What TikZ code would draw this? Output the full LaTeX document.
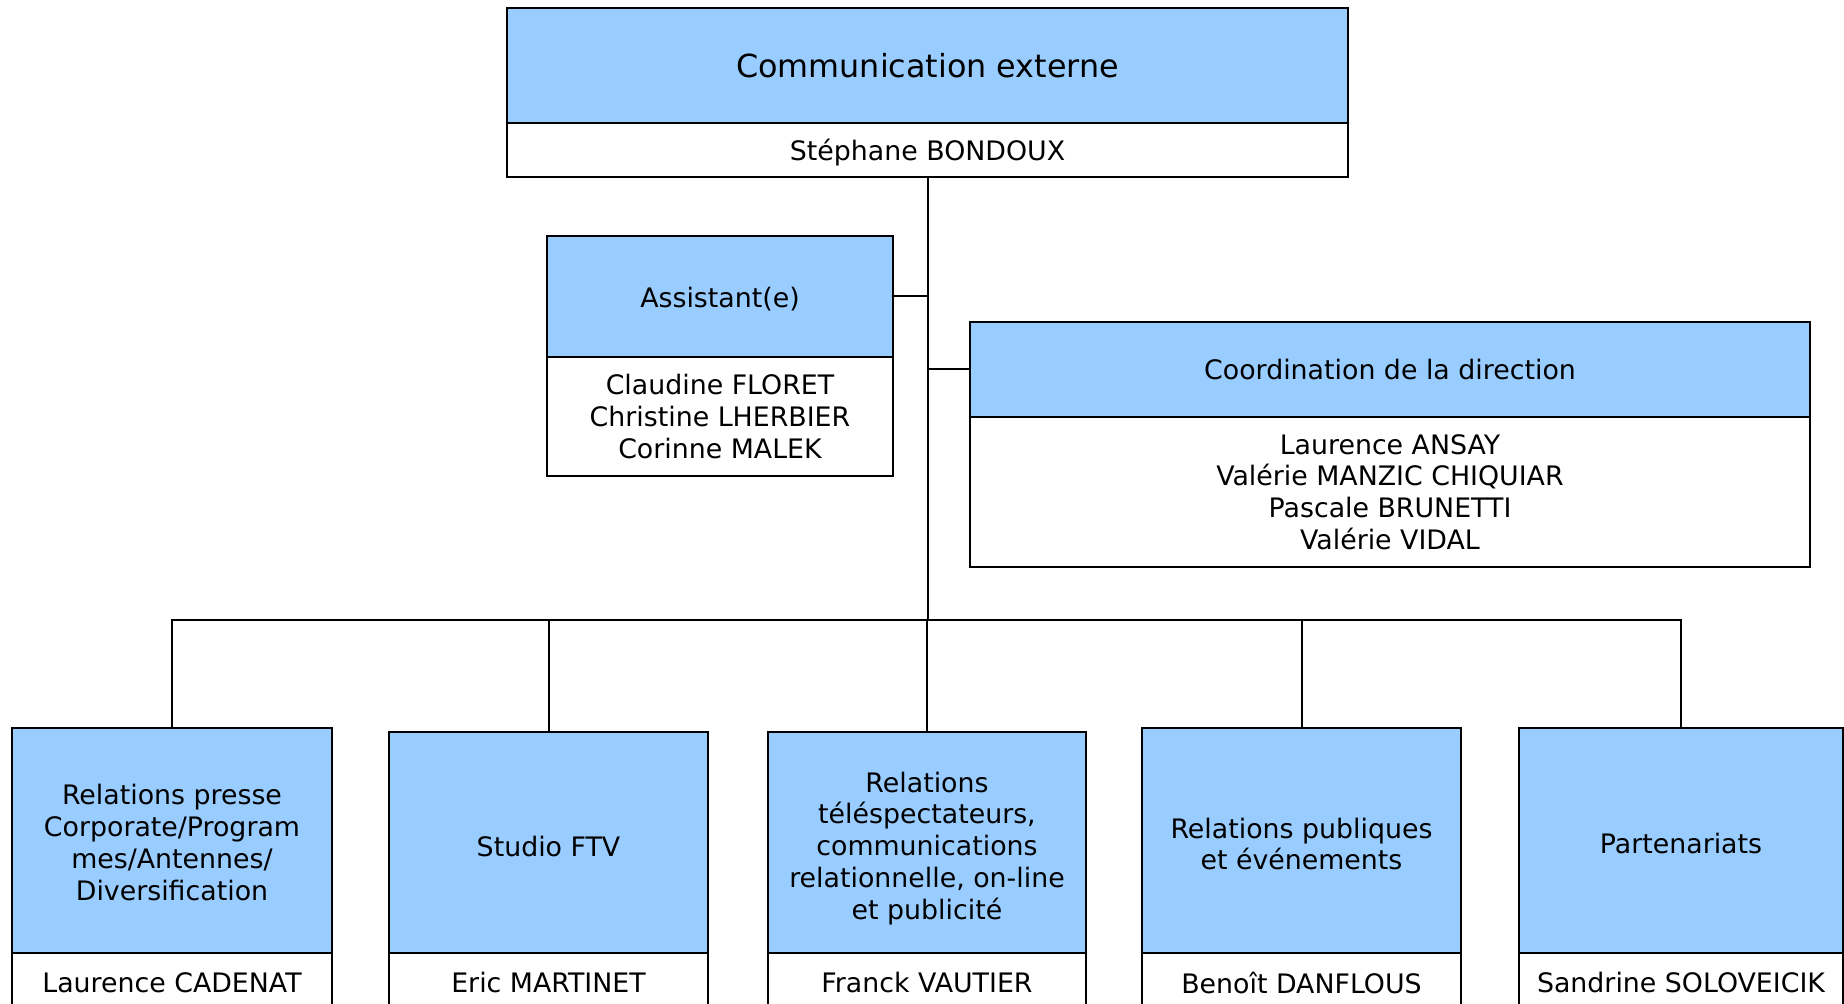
\documentclass[tikz,border=0pt]{standalone}
\usepackage{fontspec}
\setmainfont{DejaVu Sans}
\definecolor{boxblue}{HTML}{99CCFF}
\newcommand{\dropby}[1]{\rule{0pt}{#1}}
\begin{document}
\begin{tikzpicture}[x=0.5pt,y=-0.5pt,
  box/.style={draw=black, line width=1pt, inner sep=0pt, anchor=north west, align=center,
    font=\fontsize{13.4}{15.9}\selectfont},
  hdr/.style={box, fill=boxblue},
  nm/.style={box, fill=white},
  conn/.style={draw=black, line width=1pt}]
\useasboundingbox (0,0) rectangle (1844,1004);
\clip (0,0) rectangle (1844,1004);
\fill[white] (0,0) rectangle (1844,1004);

% top
\node[hdr, minimum width=420.5pt, minimum height=57.5pt, font=\fontsize{15.9}{19}\selectfont] (topH) at (506,7) {Communication externe};
\node[nm, minimum width=420.5pt, minimum height=27pt] (topN) at (506,122) {\dropby{13.1pt}Stéphane BONDOUX};

% assistant
\node[hdr, minimum width=173pt, minimum height=60.5pt] (asH) at (546,235) {\dropby{12.6pt}Assistant(e)};
\node[nm, minimum width=173pt, minimum height=59.5pt] (asN) at (546,356) {Claudine FLORET\\Christine LHERBIER\\Corinne MALEK};

% coordination
\node[hdr, minimum width=420pt, minimum height=47.5pt] (coH) at (969,321) {Coordination de la direction};
\node[nm, minimum width=420pt, minimum height=75pt] (coN) at (969,416) {Laurence ANSAY\\Valérie MANZIC CHIQUIAR\\Pascale BRUNETTI\\Valérie VIDAL};

% bottom row
\node[hdr, minimum width=160pt, minimum height=112.5pt] (b1H) at (11,727) {\dropby{12pt}Relations presse\\Corporate/Program\\mes/Antennes/\\Diversification};
\node[nm, minimum width=160pt, minimum height=30pt] (b1N) at (11,952) {Laurence CADENAT};

\node[hdr, minimum width=159.5pt, minimum height=110.5pt] (b2H) at (388,731) {\dropby{13.7pt}Studio FTV};
\node[nm, minimum width=159.5pt, minimum height=30pt] (b2N) at (388,952) {Eric MARTINET};

\node[hdr, minimum width=159pt, minimum height=110.5pt] (b3H) at (767,731) {\dropby{16pt}Relations\\téléspectateurs,\\communications\\relationnelle, on-line\\et publicité};
\node[nm, minimum width=159pt, minimum height=30pt] (b3N) at (767,952) {Franck VAUTIER};

\node[hdr, minimum width=159.5pt, minimum height=112.5pt] (b4H) at (1141,727) {\dropby{13.7pt}Relations publiques\\et événements};
\node[nm, minimum width=159.5pt, minimum height=30pt] (b4N) at (1141,952) {Benoît DANFLOUS};

\node[hdr, minimum width=162pt, minimum height=112.5pt] (b5H) at (1518,727) {\dropby{13pt}Partenariats};
\node[nm, minimum width=162pt, minimum height=30pt] (b5N) at (1518,952) {Sandrine SOLOVEICIK};

% connectors
\coordinate (bus) at (topN.south |- 0,620);
\draw[conn] (topN.south) -- (bus);
\draw[conn] (asH.east) -- (asH.east -| bus);
\draw[conn] (coH.west) -- (coH.west -| bus);
\draw[conn] (b1H.north) |- (b5H.north |- bus) -- (b5H.north);
\draw[conn] (b2H.north) -- (b2H.north |- bus);
\draw[conn] (b3H.north) -- (b3H.north |- bus);
\draw[conn] (b4H.north) -- (b4H.north |- bus);
\end{tikzpicture}
\end{document}
